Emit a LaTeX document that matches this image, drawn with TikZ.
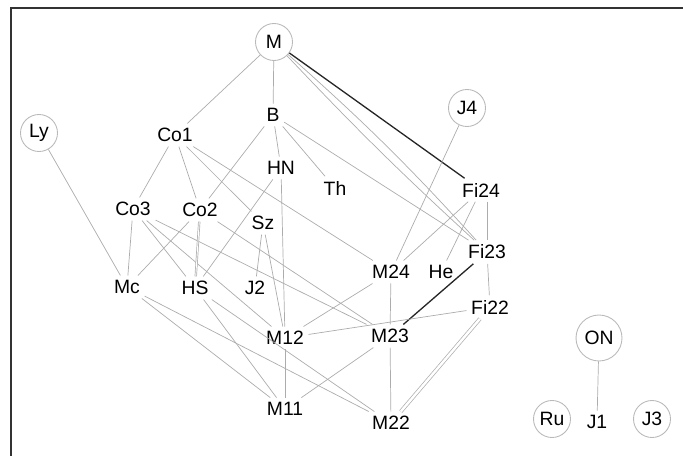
\documentclass[tikz,border=0pt]{standalone}
\usepackage{fontspec}
\setmainfont{Liberation Sans}

\tikzset{
  grp/.style={font=\fontsize{11}{13}\selectfont, inner sep=2.5pt},
  ringed/.style={grp, circle, draw=gray!55, line width=.5pt, minimum size=.74cm, inner sep=1pt},
  lnk/.style={draw=gray!65, line width=.4pt},
  heavy/.style={draw=black!85, line width=.75pt},
  twin/.style={lnk, double=white, double distance=1.4pt}
}

\begin{document}
\begin{tikzpicture}[x=.02cm, y=-.02cm]
  \useasboundingbox (0,0) rectangle (683,456);
  \begin{scope}
    \clip (0,0) rectangle (683,456);
    \draw[black!80, line width=.8pt] (11,8) rectangle (700,470);
  \end{scope}

  % top part of the lattice
  \node[ringed] (M) at (274,42) {M};
  \node[grp] (B) at (273,115) {B};
  \node[grp] (Co1) at (175,135) {Co1};
  \node[ringed] (Ly) at (39,133) {Ly};
  \node[grp] (HN) at (281,168) {HN};
  \node[grp] (Th) at (335,188) {Th};
  \node[ringed] (J4) at (467,108) {J4};
  \node[grp] (Fi24) at (481,190) {Fi24};

  % middle rows
  \node[grp] (Co3) at (133,209) {Co3};
  \node[grp] (Co2) at (200,210) {Co2};
  \node[grp] (Sz) at (263,223) {Sz};
  \node[grp] (Fi23) at (487,252) {Fi23};
  \node[grp] (M24) at (391,272) {M24};
  \node[grp] (He) at (441,272) {He};
  \node[grp] (Mc) at (127,287) {Mc};
  \node[grp] (HS) at (195,288) {HS};
  \node[grp] (J2) at (255,288) {J2};
  \node[grp] (Fi22) at (490,307) {Fi22};

  % bottom rows
  \node[grp] (M12) at (285,338) {M12};
  \node[grp] (M23) at (390,336) {M23};
  \node[grp] (M11) at (285,409) {M11};
  \node[grp] (M22) at (391,423) {M22};

  % the ones off to the side
  \node[ringed, minimum size=.92cm] (ON) at (599,338) {ON};
  \node[ringed] (Ru) at (552,419) {Ru};
  \node[grp] (J1) at (597,422) {J1};
  \node[ringed] (J3) at (652,419) {J3};

  \draw[heavy] (M) -- (Fi24);
  \draw[heavy] (Fi23) -- (M23);
  \draw[lnk] (M) to[bend left=3] (Fi23);
  \draw[lnk] (M) to[bend right=2] (Fi23);
  \draw[lnk] (Fi24.south -| Fi23.north) -- (Fi23.north);

  \foreach \a/\b in {M/Co1, M/B, B/Co2, B/HN, B/Th, B/Fi23,
      Co1/Co3, Co1/Co2, Co1/Sz, Co1/M24, Ly/Mc, HN/HS, HN/M12,
      Co3/Mc, Co3/HS, Co3/M12, Co3/M23, Co2/Mc, Co2/M23,
      Sz/J2, Sz/M12, J4/M24, Fi24/M24, Fi24/He,
      Fi23/Fi22, Fi22/M12, M24/M12, M24/M23, M12/M11,
      M23/M11, M23/M22, Mc/M11, Mc/M22, HS/M11, HS/M22, ON/J1}
    \draw[lnk] (\a) -- (\b);

  \draw[twin, double distance=.5pt] (Co2) -- (HS);
  \draw[twin] (Fi22) -- (M22);
\end{tikzpicture}
\end{document}
